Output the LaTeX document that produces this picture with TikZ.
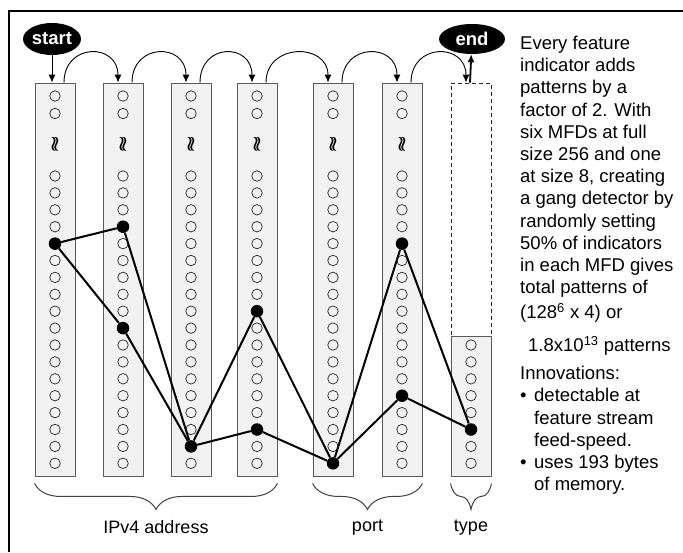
\documentclass[tikz,border=0pt]{standalone}
\usepackage{fontspec}
\setmainfont{Liberation Sans}
\usetikzlibrary{positioning,shapes.geometric,arrows.meta,decorations.pathreplacing}

\begin{document}
\begin{tikzpicture}[x=1pt, y=-1pt, >={Latex[length=8pt,width=7pt]},
  col/.style={rectangle, draw=black!65, fill=black!5, line width=0.9pt, minimum width=40pt, minimum height=393pt, inner sep=0pt},
  slot/.style={rectangle, draw=black!85, dashed, dash pattern=on 4pt off 3pt, line width=0.9pt, minimum width=40pt, minimum height=253pt, inner sep=0pt},
  hole/.style={circle, draw=black!80, line width=0.75pt, minimum size=10.5pt, inner sep=0pt},
  dot/.style={circle, fill=black, minimum size=12.5pt, inner sep=0pt},
  link/.style={line width=2pt},
  hop/.style={->, line width=0.9pt},
  term/.style={ellipse, fill=black, text=white, font=\fontsize{18.5}{20}\selectfont\bfseries, inner sep=0pt},
  brace/.style={decorate, decoration={brace, mirror, amplitude=26pt}, draw=black!75, line width=1pt},
  tag/.style={font=\fontsize{18}{20}\selectfont, inner sep=0pt},
  note/.style={font=\fontsize{18.5}{22.2}\selectfont, align=left, inner sep=0pt}]

  \useasboundingbox (0,0) rectangle (683,552);
  \draw[line width=2pt] (9,552) -- (9,11) -- (683,11);

  % six full MFD columns
  \foreach \i/\x in {1/55,2/123,3/191,4/257,5/333,6/402} {
    \node[col] (col\i) at (\x,279.5) {};
    \node[hole] (top\i a) at (\x,96) {};
    \node[hole] (top\i b) at (\x,113.5) {};
    \node[font=\fontsize{20}{20}\selectfont\boldmath, inner sep=0pt] (gap\i) at (\x,144) {$\wr\!\wr$};
    \foreach \k in {0,...,17} {
      \pgfmathsetmacro{\yy}{176+16.9*\k}
      \node[hole] (c\i r\k) at (\x,\yy) {};
    }
  }

  % size 8 column for type
  \node[slot] (slot) at (471,209.5) {};
  \node[col, minimum height=140pt] (col7) at (471,406) {};
  \foreach \k in {10,...,17} {
    \pgfmathsetmacro{\yy}{176+16.9*\k}
    \node[hole] (c7r\k) at (471,\yy) {};
  }

  % start / end
  \node[term, minimum width=58pt, minimum height=32pt] (start) at (52,39) {start};
  \node[term, minimum width=66pt, minimum height=30pt] (end) at (472,39) {end};
  \draw[hop] (start) -- (start |- col1.north);
  \foreach \i/\j in {1/2,2/3,3/4,4/5,5/6}
    \draw[hop] ([xshift=9pt]col\i.north) .. controls +(0,-40) and +(0,-40) .. ([xshift=-5pt]col\j.north);
  \draw[hop] ([xshift=9pt]col6.north) .. controls +(0,-40) and +(0,-40) .. ([xshift=-5pt]slot.north);
  \draw[->, line width=1.8pt] ([xshift=-1pt]slot.north) -- (end);

  % set indicators
  \node[dot] (a1) at (c1r4) {};
  \node[dot] (a2) at (c2r3) {};
  \node[dot] (b2) at (c2r9) {};
  \node[dot] (a3) at (c3r16) {};
  \node[dot] (a4) at (c4r8) {};
  \node[dot] (b4) at (c4r15) {};
  \node[dot] (a5) at (c5r17) {};
  \node[dot] (a6) at (c6r4) {};
  \node[dot] (b6) at (c6r13) {};
  \node[dot] (a7) at (c7r15) {};
  \draw[link] (a1) -- (a2) -- (a3) -- (a4) -- (a5) -- (a6) -- (a7);
  \draw[link] (a1) -- (b2) -- (a3) -- (b4) -- (a5) -- (b6) -- (a7);

  % groups
  \draw[brace] ([yshift=-7pt]col1.south west) -- ([yshift=-7pt]col4.south east) node[tag, midway, below=36pt] (ipv4) {IPv4 address};
  \draw[brace] ([yshift=-7pt]col5.south west) -- ([yshift=-7pt]col6.south east) node[tag, midway, below=36pt] (port) {port};
  \draw[brace] ([yshift=-7pt]col7.south west) -- ([yshift=-7pt]col7.south east) node[tag, midway, below=36pt] (type) {type};

  % explanation
  \node[note, anchor=north west] (facts) at (520,36) {Every feature\\indicator adds\\patterns by a\\factor of 2. With\\six MFDs at full\\size 256 and one\\at size 8, creating\\a gang detector by\\randomly setting\\50\% of indicators\\in each MFD gives\\total patterns of\\[2.8pt](128\textsuperscript{6} x 4) or};
  \node[note, anchor=north west] (count) at (528,336) {1.8x10\textsuperscript{13} patterns};
  \node[note, anchor=north west] (innov) at (520,366) {Innovations:\\\makebox[14pt][l]{\textbullet}detectable at\\\hspace*{14pt}feature stream\\\hspace*{14pt}feed-speed.\\\makebox[14pt][l]{\textbullet}uses 193 bytes\\\hspace*{14pt}of memory.};
\end{tikzpicture}
\end{document}
